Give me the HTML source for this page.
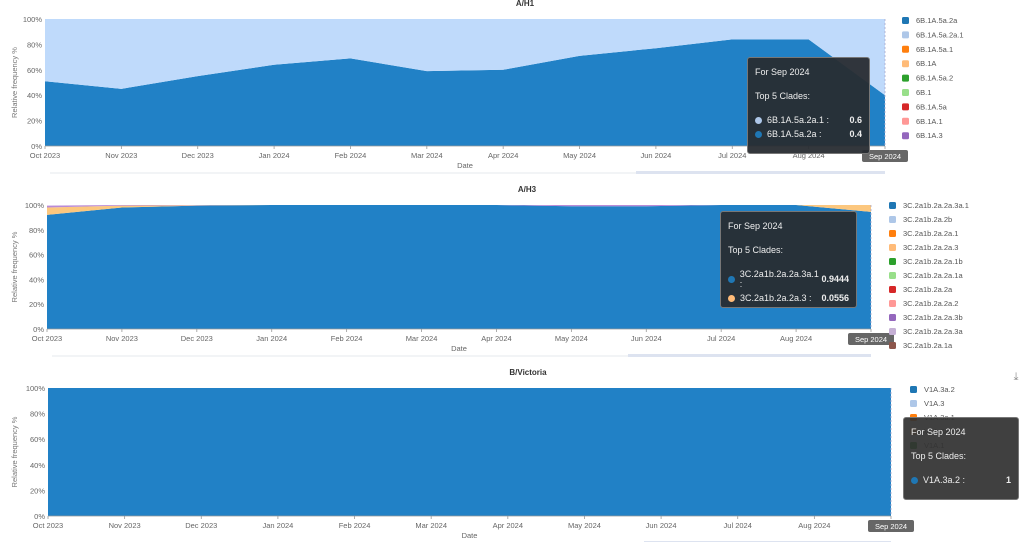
<!DOCTYPE html>
<html><head><meta charset="utf-8"><style>
body{margin:0;width:1024px;height:542px;background:#fff;font-family:"Liberation Sans",sans-serif;overflow:hidden;position:relative}
svg{position:absolute;left:0;top:0}
.tip{position:absolute;background:rgba(40,44,50,0.95);border:1px solid #777;border-radius:3px;color:#eee;font-size:9px;padding:9px 7px;box-sizing:border-box}
.tip .row{display:flex;align-items:center;margin-top:4px}
.tip .dot{width:7px;height:7px;border-radius:50%;margin-right:5px;display:inline-block}
.tip .v{margin-left:auto;font-weight:bold}
</style></head><body>
<svg id="svg" width="1024" height="542"></svg>
<div class="tip" style="left:747px;top:57px;width:123px;height:97px">
<div>For Sep 2024</div><div style="margin-top:14px">Top 5 Clades:</div>
<div class="row" style="margin-top:14px"><span class="dot" style="background:#aec7e8"></span>6B.1A.5a.2a.1 :<span class="v">0.6</span></div>
<div class="row"><span class="dot" style="background:#1f77b4"></span>6B.1A.5a.2a :<span class="v">0.4</span></div></div>
<div class="tip" style="left:720px;top:211px;width:137px;height:97px">
<div>For Sep 2024</div><div style="margin-top:14px">Top 5 Clades:</div>
<div class="row" style="margin-top:14px"><span class="dot" style="background:#1f77b4"></span>3C.2a1b.2a.2a.3a.1 :<span class="v">0.9444</span></div>
<div class="row"><span class="dot" style="background:#ffbb78"></span>3C.2a1b.2a.2a.3 :<span class="v">0.0556</span></div></div>
<div class="tip" style="left:903px;top:417px;width:116px;height:83px;background:rgba(50,50,50,0.93)">
<div>For Sep 2024</div><div style="margin-top:14px">Top 5 Clades:</div>
<div class="row" style="margin-top:14px"><span class="dot" style="background:#1f77b4"></span>V1A.3a.2 :<span class="v">1</span></div></div>
<script>
const months=["Oct 2023","Nov 2023","Dec 2023","Jan 2024","Feb 2024","Mar 2024","Apr 2024","May 2024","Jun 2024","Jul 2024","Aug 2024","Sep 2024"];
const yTicks=[0,20,40,60,80,100];
const h1Dark=[51,45,55,64,69,59,60,71,77,84,84,40];
const h1Light=[49,55,45,36,31,41,40,29,23,16,16,60];
const h3Dark=[92,98,99.5,100,100,100,100,99,99,100,100,94.44];
const h3Orange=[6,1.5,0.3,0,0,0,0,0,0,0,0,5.56];
const h3Purple=[1.5,0.5,0.2,0,0,0,0,1,1,0,0,0];
const bvDark=[100,100,100,100,100,100,100,100,100,100,100,100];
const h1Legend=["6B.1A.5a.2a","6B.1A.5a.2a.1","6B.1A.5a.1","6B.1A","6B.1A.5a.2","6B.1","6B.1A.5a","6B.1A.1","6B.1A.3"];
const h3Legend=["3C.2a1b.2a.2a.3a.1","3C.2a1b.2a.2b","3C.2a1b.2a.2a.1","3C.2a1b.2a.2a.3","3C.2a1b.2a.2a.1b","3C.2a1b.2a.2a.1a","3C.2a1b.2a.2a","3C.2a1b.2a.2a.2","3C.2a1b.2a.2a.3b","3C.2a1b.2a.2a.3a","3C.2a1b.2a.1a"];
const bvLegend=["V1A.3a.2","V1A.3","V1A.3a.1","V1A.3a","V1A.1"];
const pal=["#1f77b4","#aec7e8","#ff7f0e","#ffbb78","#2ca02c","#98df8a","#d62728","#ff9896","#9467bd","#c5b0d5","#8c564b"];
const NS="http://www.w3.org/2000/svg";
const svg=document.getElementById("svg");
function mk(t,a,name,p){const e=document.createElementNS(NS,t);for(const k in a)e.setAttribute(k,a[k]);


(p||svg).appendChild(e);return e;}
function txt(x,y,s,size,fill,anchor,name,extra){const e=mk("text",Object.assign({x:x,y:y,"font-size":size,fill:fill,"text-anchor":anchor||"start","font-family":"Liberation Sans, sans-serif"},extra||{}),name);e.textContent=s;return e;}
function chart(c){
  const xs=i=>c.x0+(c.x1-c.x0)*i/(months.length-1);
  const ys=v=>c.y1-(c.y1-c.y0)*v/100;
  mk("rect",{x:c.x0,y:c.y0,width:c.x1-c.x0,height:c.y1-c.y0,fill:"#fff"},c.id+"-plot-bg");
  let base=months.map(()=>0);
  c.series.forEach((s,si)=>{
    const top=base.map((b,i)=>b+s.v[i]);
    let d="M"+months.map((m,i)=>xs(i)+","+ys(top[i])).join("L");
    for(let i=months.length-1;i>=0;i--)d+="L"+xs(i)+","+ys(base[i]);
    mk("path",{d:d+"Z",fill:s.c},c.id+"-area-"+s.n);
    base=top;
  });
  mk("line",{x1:c.x1,y1:c.y0,x2:c.x1,y2:c.y1,stroke:"#aac",["stroke-dasharray"]:"2,2","stroke-width":0.8},c.id+"-cursor-line");
  yTicks.forEach(t=>{txt(c.x0-3,ys(t)+3,t+"%",7.5,"#666","end",c.id+"-y-tick");});
  mk("line",{x1:c.x0,y1:c.y1,x2:c.x1,y2:c.y1,stroke:"#999","stroke-width":0.8},c.id+"-x-axis");
  months.forEach((m,i)=>{
    mk("line",{x1:xs(i),y1:c.y1,x2:xs(i),y2:c.y1+3,stroke:"#999","stroke-width":0.8},c.id+"-x-tick");
    if(i<months.length-1)txt(xs(i),c.y1+12,m,7.5,"#666","middle",c.id+"-x-label");
  });
  mk("rect",{x:xs(11)-23,y:c.y1+4,width:46,height:12,rx:2,fill:"#666"},c.id+"-sep-label-bg");
  txt(xs(11),c.y1+13,months[11],7.5,"#fff","middle",c.id+"-sep-label");
  txt((c.x0+c.x1)/2,c.y1+22,"Date",7.5,"#666","middle",c.id+"-x-title");
  txt(c.x0+480,c.y0-13,c.title,8,"#333","middle",c.id+"-title",{"font-weight":"bold"});
  const cy=(c.y0+c.y1)/2;
  txt(17,cy,"Relative frequency %",7.5,"#777","middle",c.id+"-y-title",{transform:"rotate(-90 17 "+cy+")"});
  mk("line",{x1:c.x0+5,y1:c.y1+27,x2:c.x1,y2:c.y1+27,stroke:"#e6e8ee","stroke-width":1},c.id+"-slider-track");
  mk("rect",{x:c.sx,y:c.y1+25,width:c.x1-c.sx,height:3,fill:"#dde3f0"},c.id+"-slider-window");
  c.legend.forEach((n,i)=>{
    const ly=c.ly+i*c.lstep;
    mk("rect",{x:c.lx,y:ly-6,width:7,height:7,rx:1.5,fill:pal[i]},c.id+"-legend-swatch");
    txt(c.lx+14,ly,n,7.5,"#555","start",c.id+"-legend-entry");
  });
}
chart({id:"h1",title:"A/H1",x0:45,x1:885,y0:19,y1:146,sx:636,lx:902,ly:23,lstep:14.4,legend:h1Legend,
  series:[{n:"6B.1A.5a.2a",v:h1Dark,c:"#2181c6"},{n:"6B.1A.5a.2a.1",v:h1Light,c:"#bfdafb"}]});
chart({id:"h3",title:"A/H3",x0:47,x1:871,y0:205,y1:329,sx:628,lx:889,ly:208,lstep:14,legend:h3Legend,
  series:[{n:"3C.2a1b.2a.2a.3a.1",v:h3Dark,c:"#2181c6"},{n:"3C.2a1b.2a.2a.3",v:h3Orange,c:"#fcc77e"},{n:"3C.2a1b.2a.2a.3b",v:h3Purple,c:"#b98ad6"}]});
chart({id:"bv",title:"B/Victoria",x0:48,x1:891,y0:388,y1:516,sx:644,lx:910,ly:392,lstep:14,legend:bvLegend,
  series:[{n:"V1A.3a.2",v:bvDark,c:"#2181c6"}]});
txt(1016,380,"⤓",11,"#888","middle","download-icon");
</script>
</body></html>
